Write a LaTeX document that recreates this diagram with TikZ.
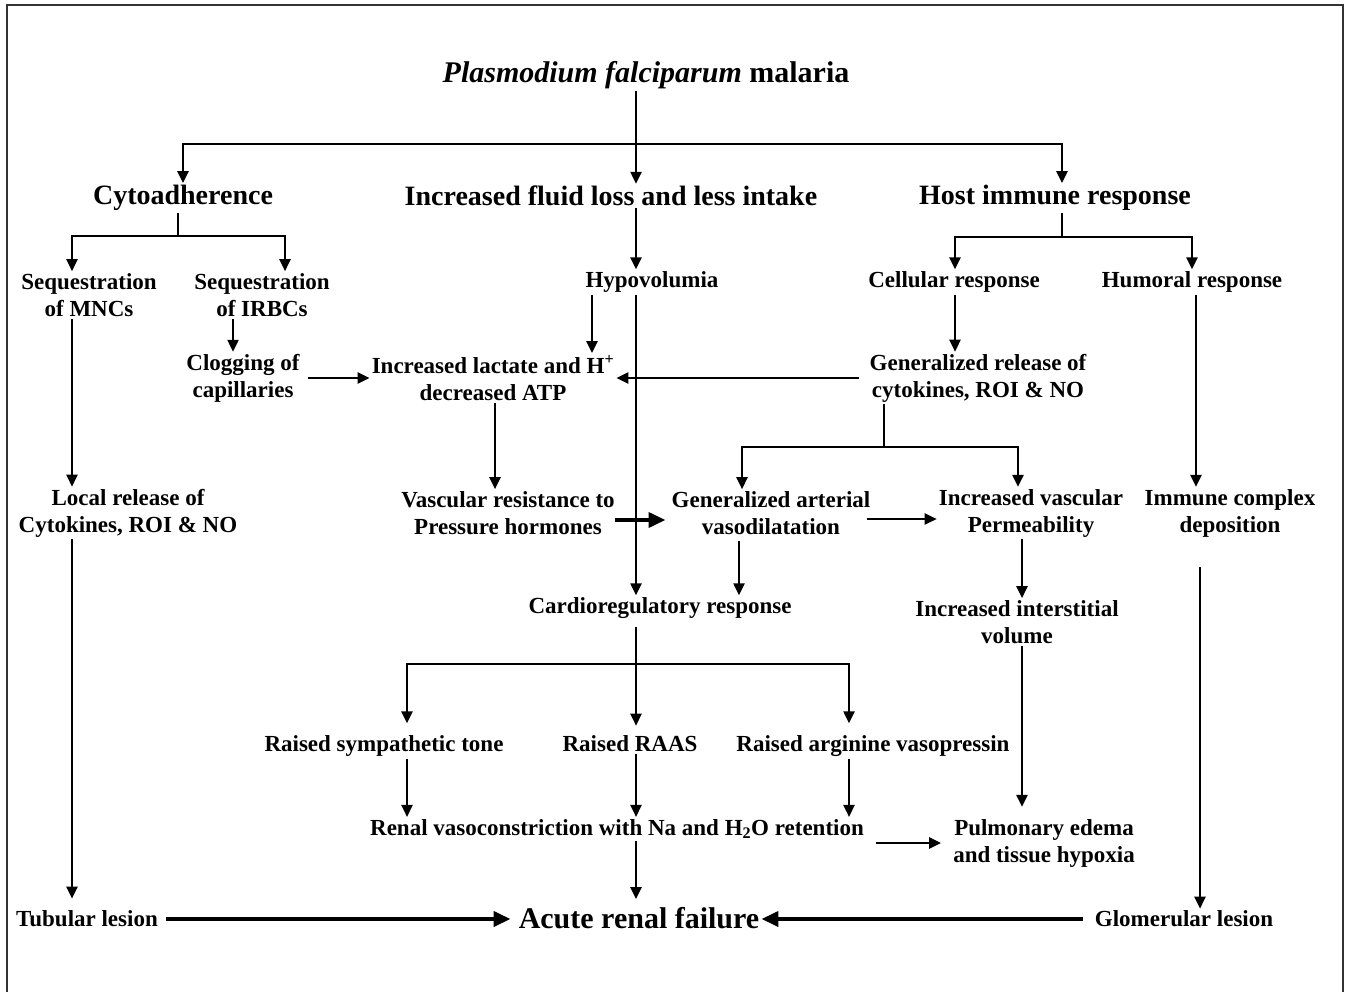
\documentclass[tikz,border=0pt]{standalone}
\usepackage{fontspec}
\setmainfont{Liberation Serif}
\usetikzlibrary{arrows.meta}

\begin{document}
\begin{tikzpicture}[x=1pt, y=-1pt,
	every node/.style={font=\fontsize{23}{27}\selectfont\bfseries, align=center, inner sep=2pt},
	head/.style={font=\fontsize{28}{32}\selectfont\bfseries},
	big/.style={font=\fontsize{30}{34}\selectfont\bfseries},
	line/.style={line width=2.4pt},
	arr/.style={line, -{Triangle[length=12pt,width=11pt]}},
	bold arr/.style={line width=3.8pt, -{Triangle[length=17pt,width=15pt]}}]
	\useasboundingbox (0,0) rectangle (1349,992);
	\draw[line width=1.2pt, black!80] (7,992) -- (7,5) -- (1343,5) -- (1343,992);
	\coordinate (spine) at (636,0);
	
	\node[big] (pf) at (646,75) {\textit{Plasmodium falciparum} malaria};
	\node[head] (cyto) at (183,198) {Cytoadherence};
	\node[head] (fluid) at (611,196) {Increased fluid loss and less intake};
	\node[head] (host) at (1055,198) {Host immune response};
	\node (mnc) at (89,295) {Sequestration\\of MNCs};
	\node (irbc) at (262,295) {Sequestration\\of IRBCs};
	\node (hypo) at (652,282) {Hypovolumia};
	\node (cell) at (954,282) {Cellular response};
	\node (humo) at (1192,282) {Humoral response};
	\node (clog) at (243,378) {Clogging of\\capillaries};
	\node (lact) at (493,378) {Increased lactate and H\textsuperscript{+}\\decreased ATP};
	\node (genrel) at (978,378) {Generalized release of\\cytokines, ROI \& NO};
	\node (local) at (128,513) {Local release of\\Cytokines, ROI \& NO};
	\node (vasres) at (508,513) {Vascular resistance to\\Pressure hormones};
	\node (art) at (771,513) {Generalized arterial\\vasodilatation};
	\node (perm) at (1031,513) {Increased vascular\\Permeability};
	\node (immc) at (1230,513) {Immune complex\\deposition};
	\node (cardio) at (660,608) {Cardioregulatory response};
	\node (inter) at (1017,622) {Increased interstitial\\volume};
	\node (symp) at (384,746) {Raised sympathetic tone};
	\node (raas) at (630,744) {Raised RAAS};
	\node (avp) at (873,746) {Raised arginine vasopressin};
	\node (renal) at (617,829) {Renal vasoconstriction with Na and H\textsubscript{2}O retention};
	\node (pulm) at (1044,843) {Pulmonary edema\\and tissue hypoxia};
	\node (tub) at (87,919) {Tubular lesion};
	\node[big] (arf) at (639,918) {Acute renal failure};
	\node (glom) at (1184,919) {Glomerular lesion};
	
	\draw[line] (pf.south -| spine) -- ++(0,53) coordinate (b1);
	\draw[arr] (b1) -| (cyto.north);
	\draw[arr] (b1) -| ([xshift=7]host.north);
	\draw[arr] (pf.south -| spine) -- (fluid.north -| spine);
	
	\draw[line] ([xshift=-5]cyto.south) -- ++(0,23) coordinate (b2);
	\draw[arr] (b2) -| ([xshift=-17]mnc.north);
	\draw[arr] (b2) -| ([xshift=23]irbc.north);
	\draw[arr] (fluid.south -| spine) -- (hypo.north -| spine);
	\draw[line] ([xshift=7]host.south) -- ++(0,24) coordinate (b3);
	\draw[arr] (b3) -| ([xshift=1]cell.north);
	\draw[arr] (b3) -| (humo.north);
	
	\draw[arr] ([xshift=-17]mnc.south) -- ([xshift=-56]local.north);
	\draw[arr] ([xshift=-29]irbc.south) -- ([xshift=-10]clog.north);
	\draw[arr] ([xshift=6]clog.east) -- (lact.west);
	\draw[arr] ([xshift=-60]hypo.south) -- ([xshift=-60]hypo.south |- lact.north);
	\draw[arr] (hypo.south -| spine) -- (cardio.north -| spine);
	\draw[arr] ([xshift=1]cell.south) -- ([xshift=1]cell.south |- genrel.north);
	\draw[arr] ([xshift=-8]genrel.west) -- (lact.east);
	\draw[line] ([xshift=-94]genrel.south) -- ++(0,43) coordinate (b4);
	\draw[arr] (b4) -| ([xshift=-29]art.north);
	\draw[arr] (b4) -| ([xshift=-13]perm.north);
	\draw[arr] ([xshift=2]lact.south) -- ([xshift=2]lact.south |- vasres.north);
	\draw[arr] ([xshift=4]humo.south) -- ([xshift=4]humo.south |- immc.north);
	
	\draw[bold arr, shorten <=-2pt, shorten >=4pt] ([yshift=-7]vasres.east) -- ([yshift=-7]vasres.east -| art.west);
	\draw[arr] ([xshift=-6,yshift=-6]art.east) -- ([yshift=-6]art.east -| perm.west);
	\draw[arr] ([xshift=-32,yshift=-4]art.south) -- ([xshift=-32]art.south |- cardio.north);
	\draw[arr] ([xshift=-9]perm.south) -- ([xshift=-9]perm.south |- inter.north);
	\draw[arr] ([xshift=-30,yshift=-28]immc.south) -- ([xshift=16]glom.north);
	\draw[arr] ([xshift=5]inter.south) -- ([xshift=5,yshift=10]inter.south |- pulm.north);
	
	\draw[line] ([yshift=-6]cardio.south -| spine) -- ++(0,37) coordinate (b5);
	\draw[arr] (b5) -| ([xshift=23,yshift=10]symp.north);
	\draw[arr] (b5) -- ([yshift=8]raas.north -| spine);
	\draw[arr] (b5) -| ([xshift=-24,yshift=10]avp.north);
	\draw[arr] ([xshift=23]symp.south) -- ([xshift=23]symp.south |- renal.north);
	\draw[arr] (raas.south -| spine) -- (renal.north -| spine);
	\draw[arr] ([xshift=-24]avp.south) -- ([xshift=-24]avp.south |- renal.north);
	\draw[arr] (renal.south -| spine) -- ([yshift=6]arf.north -| spine);
	\draw[arr] ([xshift=10]renal.east |- pulm.west) -- ([xshift=-10]pulm.west);
	
	\draw[arr] ([xshift=-56]local.south) -- ([xshift=-15,yshift=10]tub.north);
	\draw[bold arr] ([xshift=6]tub.east) -- ([xshift=-6]tub.east -| arf.west);
	\draw[bold arr] ([xshift=-10]glom.west) -- (glom.west -| arf.east);
\end{tikzpicture}
\end{document}
